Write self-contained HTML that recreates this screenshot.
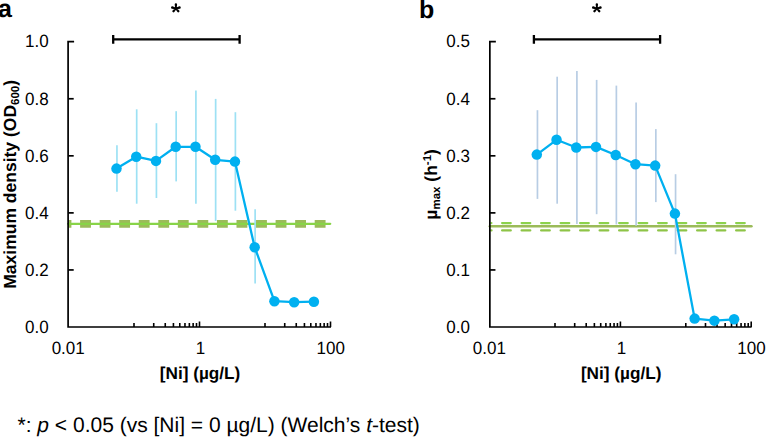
<!DOCTYPE html>
<html><head><meta charset="utf-8"><style>html,body{margin:0;padding:0;background:#fff;overflow:hidden}svg{display:block;font-family:"Liberation Sans", sans-serif;text-rendering:geometricPrecision}</style></head><body>
<svg width="766" height="437" viewBox="0 0 766 437" font-family='"Liberation Sans", sans-serif'>
<rect width="766" height="437" fill="#fff"/>
<line x1="68.10" y1="223.85" x2="331.0" y2="223.85" stroke="#9BBB59" stroke-width="7.9" stroke-dasharray="10.85 8.7" stroke-dashoffset="7.55"/>
<line x1="68.10" y1="223.8" x2="330.2" y2="223.8" stroke="#88D448" stroke-width="2.3" stroke-linecap="round"/>
<line x1="116.95" y1="145.30" x2="116.95" y2="191.80" stroke="#9DE1F4" stroke-width="1.7"/>
<line x1="136.69" y1="109.30" x2="136.69" y2="203.70" stroke="#9DE1F4" stroke-width="1.7"/>
<line x1="156.43" y1="123.20" x2="156.43" y2="198.00" stroke="#9DE1F4" stroke-width="1.7"/>
<line x1="176.17" y1="111.20" x2="176.17" y2="181.40" stroke="#9DE1F4" stroke-width="1.7"/>
<line x1="195.91" y1="90.40" x2="195.91" y2="203.70" stroke="#9DE1F4" stroke-width="1.7"/>
<line x1="215.65" y1="98.90" x2="215.65" y2="221.00" stroke="#9DE1F4" stroke-width="1.7"/>
<line x1="235.39" y1="112.20" x2="235.39" y2="210.70" stroke="#9DE1F4" stroke-width="1.7"/>
<line x1="255.13" y1="209.30" x2="255.13" y2="283.40" stroke="#9DE1F4" stroke-width="1.7"/>
<path d="M74.10 41.70 H68.10 V327.00 H331.00" fill="none" stroke="#000" stroke-width="1.7" stroke-linejoin="miter"/>
<line x1="68.10" y1="269.94" x2="73.70" y2="269.94" stroke="#000" stroke-width="1.7"/>
<line x1="68.10" y1="212.88" x2="73.70" y2="212.88" stroke="#000" stroke-width="1.7"/>
<line x1="68.10" y1="155.82" x2="73.70" y2="155.82" stroke="#000" stroke-width="1.7"/>
<line x1="68.10" y1="98.76" x2="73.70" y2="98.76" stroke="#000" stroke-width="1.7"/>
<line x1="134.00" y1="327.00" x2="134.00" y2="323.00" stroke="#000" stroke-width="1.6"/>
<line x1="153.72" y1="327.00" x2="153.72" y2="323.00" stroke="#000" stroke-width="1.6"/>
<line x1="165.25" y1="327.00" x2="165.25" y2="323.00" stroke="#000" stroke-width="1.6"/>
<line x1="173.43" y1="327.00" x2="173.43" y2="323.00" stroke="#000" stroke-width="1.6"/>
<line x1="179.78" y1="327.00" x2="179.78" y2="323.00" stroke="#000" stroke-width="1.6"/>
<line x1="184.97" y1="327.00" x2="184.97" y2="323.00" stroke="#000" stroke-width="1.6"/>
<line x1="189.35" y1="327.00" x2="189.35" y2="323.00" stroke="#000" stroke-width="1.6"/>
<line x1="193.15" y1="327.00" x2="193.15" y2="323.00" stroke="#000" stroke-width="1.6"/>
<line x1="196.50" y1="327.00" x2="196.50" y2="323.00" stroke="#000" stroke-width="1.6"/>
<line x1="199.50" y1="327.00" x2="199.50" y2="321.50" stroke="#000" stroke-width="1.6"/>
<line x1="265.00" y1="327.00" x2="265.00" y2="323.00" stroke="#000" stroke-width="1.6"/>
<line x1="284.72" y1="327.00" x2="284.72" y2="323.00" stroke="#000" stroke-width="1.6"/>
<line x1="296.25" y1="327.00" x2="296.25" y2="323.00" stroke="#000" stroke-width="1.6"/>
<line x1="304.43" y1="327.00" x2="304.43" y2="323.00" stroke="#000" stroke-width="1.6"/>
<line x1="310.78" y1="327.00" x2="310.78" y2="323.00" stroke="#000" stroke-width="1.6"/>
<line x1="315.97" y1="327.00" x2="315.97" y2="323.00" stroke="#000" stroke-width="1.6"/>
<line x1="320.35" y1="327.00" x2="320.35" y2="323.00" stroke="#000" stroke-width="1.6"/>
<line x1="324.15" y1="327.00" x2="324.15" y2="323.00" stroke="#000" stroke-width="1.6"/>
<line x1="327.50" y1="327.00" x2="327.50" y2="323.00" stroke="#000" stroke-width="1.6"/>
<line x1="330.50" y1="327.00" x2="330.50" y2="321.50" stroke="#000" stroke-width="1.6"/>
<text transform="translate(48.60 333.25) scale(1 1.05)" text-anchor="end" font-size="17">0.0</text>
<text transform="translate(48.60 276.09) scale(1 1.05)" text-anchor="end" font-size="17">0.2</text>
<text transform="translate(48.60 218.93) scale(1 1.05)" text-anchor="end" font-size="17">0.4</text>
<text transform="translate(48.60 161.77) scale(1 1.05)" text-anchor="end" font-size="17">0.6</text>
<text transform="translate(48.60 104.61) scale(1 1.05)" text-anchor="end" font-size="17">0.8</text>
<text transform="translate(48.60 47.45) scale(1 1.05)" text-anchor="end" font-size="17">1.0</text>
<text transform="translate(68.20 354.2) scale(1 1.05)" text-anchor="middle" font-size="17">0.01</text>
<text transform="translate(200.60 354.2) scale(1 1.05)" text-anchor="middle" font-size="17">1</text>
<text transform="translate(330.80 354.2) scale(1 1.05)" text-anchor="middle" font-size="17">100</text>
<path d="M116.50 168.60 L136.24 156.70 L155.98 160.90 L175.72 146.80 L195.46 146.80 L215.20 159.80 L234.94 161.60 L254.68 247.20 L274.42 301.20 L294.16 302.20 L313.90 301.70" fill="none" stroke="#00B0F0" stroke-width="2.3" stroke-linejoin="round"/>
<circle cx="116.50" cy="168.60" r="5.25" fill="#00B0F0"/>
<circle cx="136.24" cy="156.70" r="5.25" fill="#00B0F0"/>
<circle cx="155.98" cy="160.90" r="5.25" fill="#00B0F0"/>
<circle cx="175.72" cy="146.80" r="5.25" fill="#00B0F0"/>
<circle cx="195.46" cy="146.80" r="5.25" fill="#00B0F0"/>
<circle cx="215.20" cy="159.80" r="5.25" fill="#00B0F0"/>
<circle cx="234.94" cy="161.60" r="5.25" fill="#00B0F0"/>
<circle cx="254.68" cy="247.20" r="5.25" fill="#00B0F0"/>
<circle cx="274.42" cy="301.20" r="5.25" fill="#00B0F0"/>
<circle cx="294.16" cy="302.20" r="5.25" fill="#00B0F0"/>
<circle cx="313.90" cy="301.70" r="5.25" fill="#00B0F0"/>
<path d="M113.20 36.05 V42.65 M113.20 39.35 H239.60 M239.60 36.05 V42.65" stroke="#000" stroke-width="2.3" fill="none" stroke-linecap="square" stroke-linejoin="round"/>
<line x1="489.85" y1="226.2" x2="751.4" y2="226.2" stroke="#9BBB59" stroke-width="2.6" stroke-linecap="round"/>
<path d="M491.45 223.10 H491.30 M502.10 223.10 H510.80 M521.60 223.10 H530.30 M541.10 223.10 H549.80 M560.60 223.10 H569.30 M580.10 223.10 H588.80 M599.60 223.10 H608.30 M619.10 223.10 H627.80 M638.60 223.10 H647.30 M658.10 223.10 H666.80 M677.60 223.10 H686.30 M697.10 223.10 H705.80 M716.60 223.10 H725.30 M736.10 223.10 H744.80" stroke="#8CD24C" stroke-width="2.2" stroke-linecap="round" fill="none"/>
<path d="M491.50 230.45 H491.25 M502.15 230.45 H510.75 M521.65 230.45 H530.25 M541.15 230.45 H549.75 M560.65 230.45 H569.25 M580.15 230.45 H588.75 M599.65 230.45 H608.25 M619.15 230.45 H627.75 M638.65 230.45 H647.25 M658.15 230.45 H666.75 M677.65 230.45 H686.25 M697.15 230.45 H705.75 M716.65 230.45 H725.25 M736.15 230.45 H744.75" stroke="#8EC447" stroke-width="2.3" stroke-linecap="round" fill="none"/>
<line x1="537.45" y1="110.20" x2="537.45" y2="198.90" stroke="#B8CDE4" stroke-width="1.7"/>
<line x1="557.18" y1="76.70" x2="557.18" y2="203.70" stroke="#B8CDE4" stroke-width="1.7"/>
<line x1="576.91" y1="71.00" x2="576.91" y2="224.00" stroke="#B8CDE4" stroke-width="1.7"/>
<line x1="596.64" y1="79.90" x2="596.64" y2="214.20" stroke="#B8CDE4" stroke-width="1.7"/>
<line x1="616.37" y1="85.60" x2="616.37" y2="224.40" stroke="#B8CDE4" stroke-width="1.7"/>
<line x1="636.10" y1="102.60" x2="636.10" y2="225.80" stroke="#B8CDE4" stroke-width="1.7"/>
<line x1="655.83" y1="129.10" x2="655.83" y2="202.10" stroke="#B8CDE4" stroke-width="1.7"/>
<line x1="675.56" y1="174.20" x2="675.56" y2="254.30" stroke="#B8CDE4" stroke-width="1.7"/>
<path d="M495.85 41.70 H489.85 V327.00 H751.60" fill="none" stroke="#000" stroke-width="1.7" stroke-linejoin="miter"/>
<line x1="489.85" y1="269.94" x2="495.45" y2="269.94" stroke="#000" stroke-width="1.7"/>
<line x1="489.85" y1="212.88" x2="495.45" y2="212.88" stroke="#000" stroke-width="1.7"/>
<line x1="489.85" y1="155.82" x2="495.45" y2="155.82" stroke="#000" stroke-width="1.7"/>
<line x1="489.85" y1="98.76" x2="495.45" y2="98.76" stroke="#000" stroke-width="1.7"/>
<line x1="555.00" y1="327.00" x2="555.00" y2="323.00" stroke="#000" stroke-width="1.6"/>
<line x1="574.69" y1="327.00" x2="574.69" y2="323.00" stroke="#000" stroke-width="1.6"/>
<line x1="586.20" y1="327.00" x2="586.20" y2="323.00" stroke="#000" stroke-width="1.6"/>
<line x1="594.37" y1="327.00" x2="594.37" y2="323.00" stroke="#000" stroke-width="1.6"/>
<line x1="600.71" y1="327.00" x2="600.71" y2="323.00" stroke="#000" stroke-width="1.6"/>
<line x1="605.89" y1="327.00" x2="605.89" y2="323.00" stroke="#000" stroke-width="1.6"/>
<line x1="610.27" y1="327.00" x2="610.27" y2="323.00" stroke="#000" stroke-width="1.6"/>
<line x1="614.06" y1="327.00" x2="614.06" y2="323.00" stroke="#000" stroke-width="1.6"/>
<line x1="617.41" y1="327.00" x2="617.41" y2="323.00" stroke="#000" stroke-width="1.6"/>
<line x1="620.40" y1="327.00" x2="620.40" y2="321.50" stroke="#000" stroke-width="1.6"/>
<line x1="685.80" y1="327.00" x2="685.80" y2="323.00" stroke="#000" stroke-width="1.6"/>
<line x1="705.49" y1="327.00" x2="705.49" y2="323.00" stroke="#000" stroke-width="1.6"/>
<line x1="717.00" y1="327.00" x2="717.00" y2="323.00" stroke="#000" stroke-width="1.6"/>
<line x1="725.17" y1="327.00" x2="725.17" y2="323.00" stroke="#000" stroke-width="1.6"/>
<line x1="731.51" y1="327.00" x2="731.51" y2="323.00" stroke="#000" stroke-width="1.6"/>
<line x1="736.69" y1="327.00" x2="736.69" y2="323.00" stroke="#000" stroke-width="1.6"/>
<line x1="741.07" y1="327.00" x2="741.07" y2="323.00" stroke="#000" stroke-width="1.6"/>
<line x1="744.86" y1="327.00" x2="744.86" y2="323.00" stroke="#000" stroke-width="1.6"/>
<line x1="748.21" y1="327.00" x2="748.21" y2="323.00" stroke="#000" stroke-width="1.6"/>
<line x1="751.20" y1="327.00" x2="751.20" y2="321.50" stroke="#000" stroke-width="1.6"/>
<text transform="translate(470.00 333.25) scale(1 1.05)" text-anchor="end" font-size="17">0.0</text>
<text transform="translate(470.00 276.09) scale(1 1.05)" text-anchor="end" font-size="17">0.1</text>
<text transform="translate(470.00 218.93) scale(1 1.05)" text-anchor="end" font-size="17">0.2</text>
<text transform="translate(470.00 161.77) scale(1 1.05)" text-anchor="end" font-size="17">0.3</text>
<text transform="translate(470.00 104.61) scale(1 1.05)" text-anchor="end" font-size="17">0.4</text>
<text transform="translate(470.00 47.45) scale(1 1.05)" text-anchor="end" font-size="17">0.5</text>
<text transform="translate(489.30 354.2) scale(1 1.05)" text-anchor="middle" font-size="17">0.01</text>
<text transform="translate(621.50 354.2) scale(1 1.05)" text-anchor="middle" font-size="17">1</text>
<text transform="translate(751.50 354.2) scale(1 1.05)" text-anchor="middle" font-size="17">100</text>
<path d="M536.80 154.60 L556.53 139.80 L576.26 147.50 L595.99 146.90 L615.72 155.00 L635.45 164.20 L655.18 165.60 L674.91 213.60 L694.64 318.60 L714.37 320.65 L734.10 319.30" fill="none" stroke="#00B0F0" stroke-width="2.3" stroke-linejoin="round"/>
<circle cx="536.80" cy="154.60" r="5.25" fill="#00B0F0"/>
<circle cx="556.53" cy="139.80" r="5.25" fill="#00B0F0"/>
<circle cx="576.26" cy="147.50" r="5.25" fill="#00B0F0"/>
<circle cx="595.99" cy="146.90" r="5.25" fill="#00B0F0"/>
<circle cx="615.72" cy="155.00" r="5.25" fill="#00B0F0"/>
<circle cx="635.45" cy="164.20" r="5.25" fill="#00B0F0"/>
<circle cx="655.18" cy="165.60" r="5.25" fill="#00B0F0"/>
<circle cx="674.91" cy="213.60" r="5.25" fill="#00B0F0"/>
<circle cx="694.64" cy="318.60" r="5.25" fill="#00B0F0"/>
<circle cx="714.37" cy="320.65" r="5.25" fill="#00B0F0"/>
<circle cx="734.10" cy="319.30" r="5.25" fill="#00B0F0"/>
<path d="M533.90 36.05 V42.65 M533.90 39.35 H660.10 M660.10 36.05 V42.65" stroke="#000" stroke-width="2.3" fill="none" stroke-linecap="square" stroke-linejoin="round"/>
<text x="-2.0" y="16.9" font-size="25" font-weight="bold">a</text>
<text x="419.0" y="17.6" font-size="25" font-weight="bold">b</text>
<path d="M176.65 8.50 L177.10 4.35 A1.2 1.2 0 0 0 174.70 4.35 L175.15 8.50Z M176.09 7.77 L172.46 6.37 A1.2 1.2 0 0 0 171.86 8.69 L175.71 9.23Z M176.09 9.23 L179.94 8.69 A1.2 1.2 0 0 0 179.34 6.37 L175.71 7.77Z M175.34 8.00 L172.55 10.44 A1.2 1.2 0 0 0 174.33 12.04 L176.46 9.00Z M175.34 9.00 L177.47 12.04 A1.2 1.2 0 0 0 179.25 10.44 L176.46 8.00Z" fill="#000"/>
<circle cx="175.90" cy="8.50" r="1.3" fill="#000"/>
<path d="M597.60 8.50 L598.05 4.35 A1.2 1.2 0 0 0 595.65 4.35 L596.10 8.50Z M597.04 7.77 L593.41 6.37 A1.2 1.2 0 0 0 592.81 8.69 L596.66 9.23Z M597.04 9.23 L600.89 8.69 A1.2 1.2 0 0 0 600.29 6.37 L596.66 7.77Z M596.29 8.00 L593.50 10.44 A1.2 1.2 0 0 0 595.28 12.04 L597.41 9.00Z M596.29 9.00 L598.42 12.04 A1.2 1.2 0 0 0 600.20 10.44 L597.41 8.00Z" fill="#000"/>
<circle cx="596.85" cy="8.50" r="1.3" fill="#000"/>
<text x="200.05" y="378.6" text-anchor="middle" font-size="17.2" font-weight="bold">[Ni] (µg/L)</text>
<text x="621.15" y="378.6" text-anchor="middle" font-size="17.2" font-weight="bold">[Ni] (µg/L)</text>
<text transform="translate(16.2 184.35) rotate(-90)" text-anchor="middle" font-size="17.5" font-weight="bold">Maximum density (OD<tspan font-size="11.5" dy="3">600</tspan><tspan dy="-3">)</tspan></text>
<text transform="translate(436.6 184.35) rotate(-90)" text-anchor="middle" font-size="17.5" font-weight="bold">µ<tspan font-size="11.5" dy="3">max</tspan><tspan dy="-3"> (h</tspan><tspan font-size="11.5" dy="-6">-1</tspan><tspan dy="6">)</tspan></text>
<text x="17.5" y="432.4" font-size="21">*: <tspan font-style="italic">p</tspan> &lt; 0.05 (vs [Ni] = 0 µg/L) (Welch’s <tspan font-style="italic">t</tspan>-test)</text>
</svg>
</body></html>
